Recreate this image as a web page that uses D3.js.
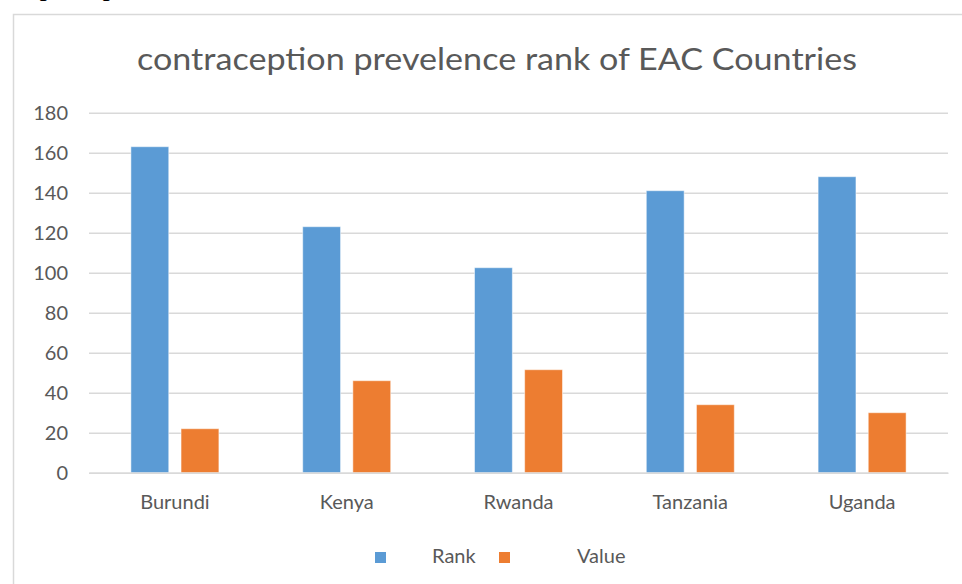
<!DOCTYPE html>
<html>
<head>
<meta charset="utf-8">
<script src="https://cdn.jsdelivr.net/npm/d3@7"></script>
<style>
  html, body { margin: 0; padding: 0; background: #fff; }
  svg { display: block; }
</style>
</head>
<body>
<script>
const countries = ['Burundi', 'Kenya', 'Rwanda', 'Tanzania', 'Uganda']
const rank = [163, 123, 102.5, 141, 148]
const value = [22, 46, 51.5, 34, 30]
const seriesNames = ['Rank', 'Value']
const yTicks = [0, 20, 40, 60, 80, 100, 120, 140, 160, 180]

const width = 962
const height = 584
const colors = ['#5b9bd5', '#ed7d31']
const grey = '#595959'
const gridColor = '#d9d9d9'
const font = 'Lato, "Open Sans", sans-serif'

const svg = d3.select('body').append('svg')
  .attr('width', width)
  .attr('height', height)
  .attr('viewBox', [0, 0, width, height])

// caption of the document above the chart, only its lowest pixels show
svg.append('text')
  .attr('x', -55)
  .attr('y', -5)
  .attr('font-family', '"Liberation Serif", "Times New Roman", serif')
  .attr('font-size', 28)
  .attr('fill', '#000')
  .text('contraceptive prevalence chart of EAC Countries')

// chart frame
svg.append('rect')
  .attr('x', 13.5)
  .attr('y', 14.5)
  .attr('width', 1000)
  .attr('height', 1000)
  .attr('fill', '#fff')
  .attr('stroke', gridColor)
  .attr('stroke-width', 1.5)

svg.append('text')
  .attr('x', 497)
  .attr('y', 70)
  .attr('text-anchor', 'middle')
  .attr('font-family', font)
  .attr('font-size', 30)
  .attr('fill', grey)
  .attr('textLength', 720)
  .attr('lengthAdjust', 'spacingAndGlyphs')
  .text('contraception prevelence rank of EAC Countries')

const x0 = d3.scaleBand().domain(countries).range([89, 948])
const x1 = d3.scaleBand().domain(seriesNames).range([-44, 44]).paddingInner(0.245)
const y = d3.scaleLinear().domain([0, 180]).range([472.7, 112.7])

// gridlines + y labels
const yAxis = svg.append('g')
  .attr('transform', 'translate(89,0)')
  .call(d3.axisLeft(y).tickValues(yTicks).tickSize(-(948 - 89)).tickPadding(21))
yAxis.select('.domain').remove()
yAxis.selectAll('.tick line').attr('stroke', gridColor).attr('stroke-width', 1.5)
yAxis.selectAll('.tick text')
  .attr('font-family', font)
  .attr('font-size', 20)
  .attr('fill', grey)

const table = countries.map((c, i) => ({ country: c, values: [rank[i], value[i]] }))

svg.append('g')
  .selectAll('g')
  .data(table)
  .join('g')
    .attr('transform', d => `translate(${x0(d.country) + x0.bandwidth() / 2},0)`)
  .selectAll('rect')
  .data(d => d.values.map((v, j) => ({ key: seriesNames[j], v, j })))
  .join('rect')
    .attr('x', d => x1(d.key))
    .attr('y', d => y(d.v))
    .attr('width', x1.bandwidth())
    .attr('height', d => y(0) - y(d.v))
    .attr('fill', d => colors[d.j])
    .attr('stroke', '#fff')
    .attr('stroke-opacity', 0.5)
    .attr('stroke-width', 1)

// category axis
const xAxis = svg.append('g')
  .attr('transform', `translate(0,${y(0)})`)
  .call(d3.axisBottom(x0).tickSize(0).tickPadding(22))
xAxis.select('.domain').attr('stroke', gridColor).attr('stroke-width', 1.5)
xAxis.selectAll('.tick text')
  .attr('font-family', font)
  .attr('font-size', 20)
  .attr('fill', grey)

// legend
const legendX = [375, 499]
const labelX = [432, 577]
const legend = svg.append('g')
seriesNames.forEach((name, i) => {
  legend.append('rect')
    .attr('x', legendX[i])
    .attr('y', 552)
    .attr('width', 11)
    .attr('height', 11)
    .attr('fill', colors[i])
  legend.append('text')
    .attr('x', labelX[i])
    .attr('y', 563)
    .attr('font-family', font)
    .attr('font-size', 20)
    .attr('fill', grey)
    .text(name)
})
</script>
</body>
</html>
